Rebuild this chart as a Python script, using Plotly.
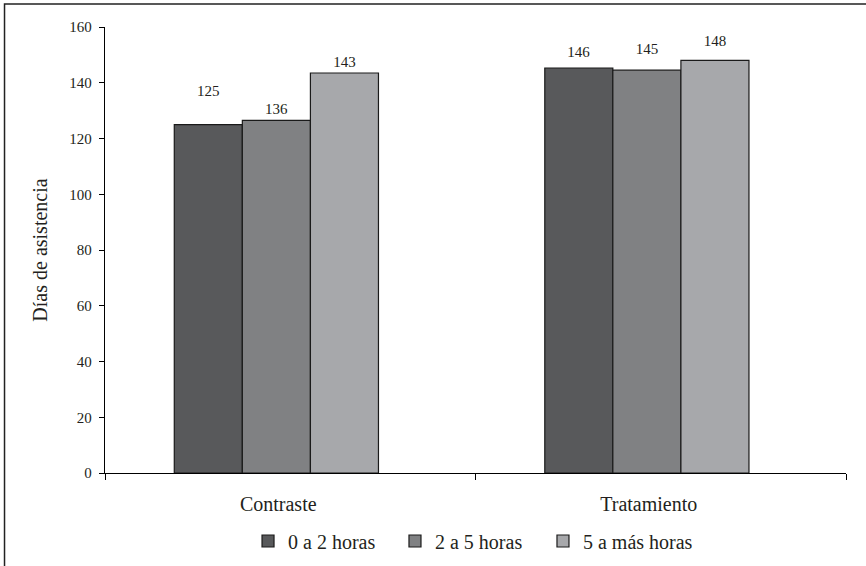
import plotly.graph_objects as go

categories = ["Contraste", "Tratamiento"]
series_names = ["0 a 2 horas", "2 a 5 horas", "5 a más horas"]
# bar heights as drawn
values_0_2 = [125, 145.3]
values_2_5 = [126.5, 144.5]
values_5_mas = [143.5, 148]
# printed labels
labels_0_2 = ["125", "146"]
labels_2_5 = ["136", "145"]
labels_5_mas = ["143", "148"]
# heights at which the printed labels sit
label_y_0_2 = [133, 147]
label_y_2_5 = [126.5, 148]
label_y_5_mas = [143.5, 151]

colors = ["#58595b", "#808183", "#a7a8ab"]
FONT = "Liberation Serif"
TXT = "#231f20"

bar_w = 0.1837
group_start = -0.313
legend_x = [0.2864, 0.4561, 0.6270]
legend_ids = ["legend", "legend2", "legend3"]

values = [values_0_2, values_2_5, values_5_mas]
labels = [labels_0_2, labels_2_5, labels_5_mas]
label_ys = [label_y_0_2, label_y_2_5, label_y_5_mas]

fig = go.Figure()

# invisible carriers for the value labels
for i in range(3):
    fig.add_trace(go.Bar(
        x=categories, y=label_ys[i], text=labels[i],
        textposition="outside", cliponaxis=False,
        textfont=dict(family=FONT, size=15, color=TXT),
        marker=dict(color="rgba(0,0,0,0)", line=dict(width=0)),
        width=bar_w, offset=group_start + i * bar_w,
        showlegend=False, hoverinfo="skip",
    ))

for i in range(3):
    fig.add_trace(go.Bar(
        x=categories, y=values[i], name=series_names[i],
        marker=dict(color=colors[i], line=dict(color="#1a1a1a", width=1.2)),
        width=bar_w, offset=group_start + i * bar_w,
        legend=legend_ids[i], showlegend=True,
    ))

legend_common = dict(
    orientation="h", xanchor="left", xref="container",
    y=0.0442, yanchor="middle", yref="container",
    font=dict(family=FONT, size=20, color=TXT),
    itemwidth=30, bgcolor="rgba(0,0,0,0)",
)

fig.update_layout(
    width=866, height=566,
    margin=dict(l=105, r=20, t=27, b=93),
    paper_bgcolor="white", plot_bgcolor="white",
    barmode="overlay",
    font=dict(family=FONT, color=TXT),
    showlegend=True,
    legend=dict(x=legend_x[0], **legend_common),
    legend2=dict(x=legend_x[1], **legend_common),
    legend3=dict(x=legend_x[2], **legend_common),
    shapes=[dict(
        type="rect", xref="paper", yref="paper",
        x0=-0.1356, x1=1.2, y0=-0.35, y1=1.0516,
        line=dict(color="#222222", width=1.5), fillcolor="rgba(0,0,0,0)",
        layer="above",
    )],
)

fig.update_yaxes(
    range=[0, 160], tick0=0, dtick=20, automargin=False,
    showgrid=False, zeroline=False,
    showline=True, linecolor="black", linewidth=1.3,
    ticks="outside", ticklen=5, tickcolor="black", tickwidth=1.3,
    tickfont=dict(family=FONT, size=15, color=TXT),
    ticklabelstandoff=4,
    title=dict(text="Días de asistencia", font=dict(family=FONT, size=20, color=TXT), standoff=16),
)
fig.update_xaxes(
    range=[-0.5, 1.5], automargin=False, showgrid=False, zeroline=False,
    showline=True, linecolor="black", linewidth=1.3,
    ticks="outside", tickson="boundaries", ticklen=6, tickcolor="black", tickwidth=1.3,
    tickfont=dict(family=FONT, size=20, color=TXT),
    ticklabelstandoff=13, ticklabelshift=-12,
)

fig.write_html("out.html", config={"displayModeBar": False},
               post_script="document.body.style.margin='0';")
